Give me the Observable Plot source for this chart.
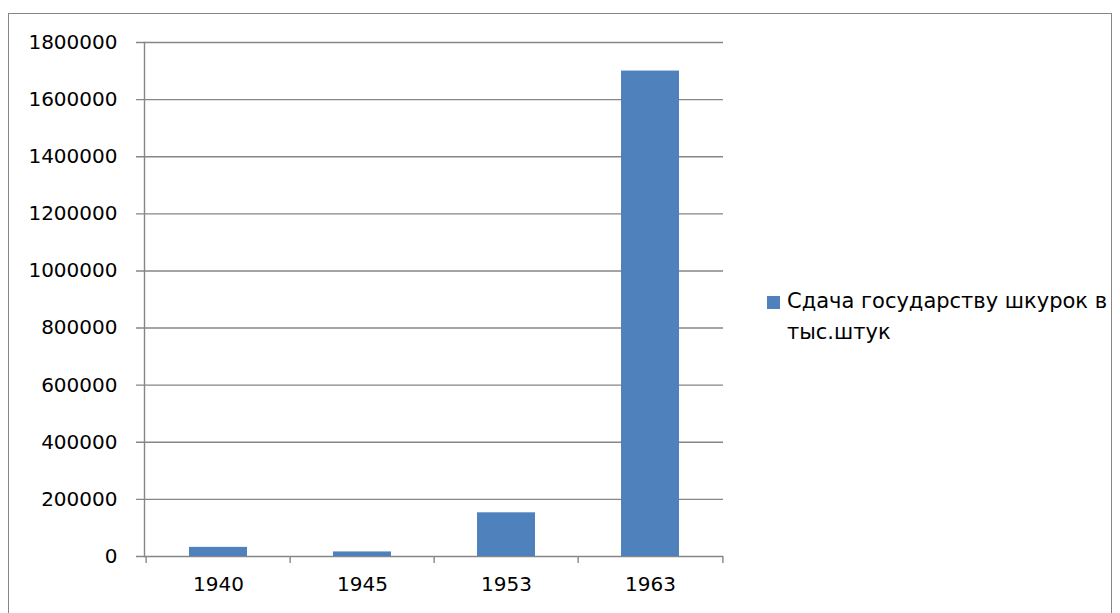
<!DOCTYPE html>
<html><head><meta charset="utf-8">
<script src="https://cdn.jsdelivr.net/npm/d3@7"></script>
<script src="https://cdn.jsdelivr.net/npm/@observablehq/plot@0.6"></script>
<style>
html,body{margin:0;padding:0;background:#fff;}
#wrap{position:relative;width:1120px;height:613px;overflow:hidden;font-family:"DejaVu Sans",sans-serif;}
#border{position:absolute;left:8px;top:13px;width:1104px;height:640px;border:1px solid #868686;box-sizing:border-box;}
#chart{position:absolute;left:0;top:0;}
#chart svg text{font-family:"DejaVu Sans",sans-serif;font-size:20px;fill:#000;}
#legend{position:absolute;left:767px;top:286px;font-size:21px;line-height:31px;color:#000;white-space:nowrap;}
#legend .sw{position:absolute;left:0;top:10px;width:13px;height:13px;background:#4F81BD;}
#legend .tx{margin-left:20px;}
</style></head>
<body><div id="wrap"><div id="border"></div><div id="chart"></div>
<div id="legend"><div class="sw"></div><div class="tx"></div></div></div>
<script>
const years = ["1940","1945","1953","1963"];
const values = [32000, 16000, 153000, 1700000];
const seriesName = ["Сдача государству шкурок в", "тыс.штук"];
const yTicks = [0,200000,400000,600000,800000,1000000,1200000,1400000,1600000,1800000];

const data = years.map((y,i)=>({year:y, value:values[i]}));
const W=1120,H=613,mL=144,mR=397,mT=42,mB=57;
const step=(W-mL-mR)/years.length;
const grid="#868686";

const chart = Plot.plot({
  width:W,height:H,marginLeft:mL,marginRight:mR,marginTop:mT,marginBottom:mB,
  style:{fontFamily:"DejaVu Sans, sans-serif",fontSize:"20px",color:"#000",background:"transparent"},
  x:{domain:years,paddingInner:0.6,paddingOuter:0.3,label:null},
  y:{domain:[0,1800000],label:null},
  marks:[
    Plot.ruleY(yTicks,{y:d=>d,stroke:grid,strokeWidth:1.4,insetLeft:-8}),
    Plot.barY(data,{x:"year",y:"value",fill:"#4F81BD"}),
    Plot.axisY({ticks:yTicks,tickSize:0,tickPadding:27,tickFormat:d=>String(d),label:null}),
    Plot.frame({anchor:"left",stroke:grid,strokeWidth:1.4}),
    Plot.ruleX(years,{x:d=>d,dx:-step/2,y1:0,y2:0,insetBottom:-7,stroke:grid,strokeWidth:1.4}),
    Plot.ruleX([years[years.length-1]],{x:d=>d,dx:step/2,y1:0,y2:0,insetBottom:-7,stroke:grid,strokeWidth:1.4}),
    Plot.axisX({tickSize:0,tickPadding:20,label:null})
  ]
});
document.getElementById("chart").appendChild(chart);
const tx=document.querySelector("#legend .tx");
seriesName.forEach((s,i)=>{ if(i) tx.appendChild(document.createElement("br")); tx.appendChild(document.createTextNode(s)); });
</script></body></html>
